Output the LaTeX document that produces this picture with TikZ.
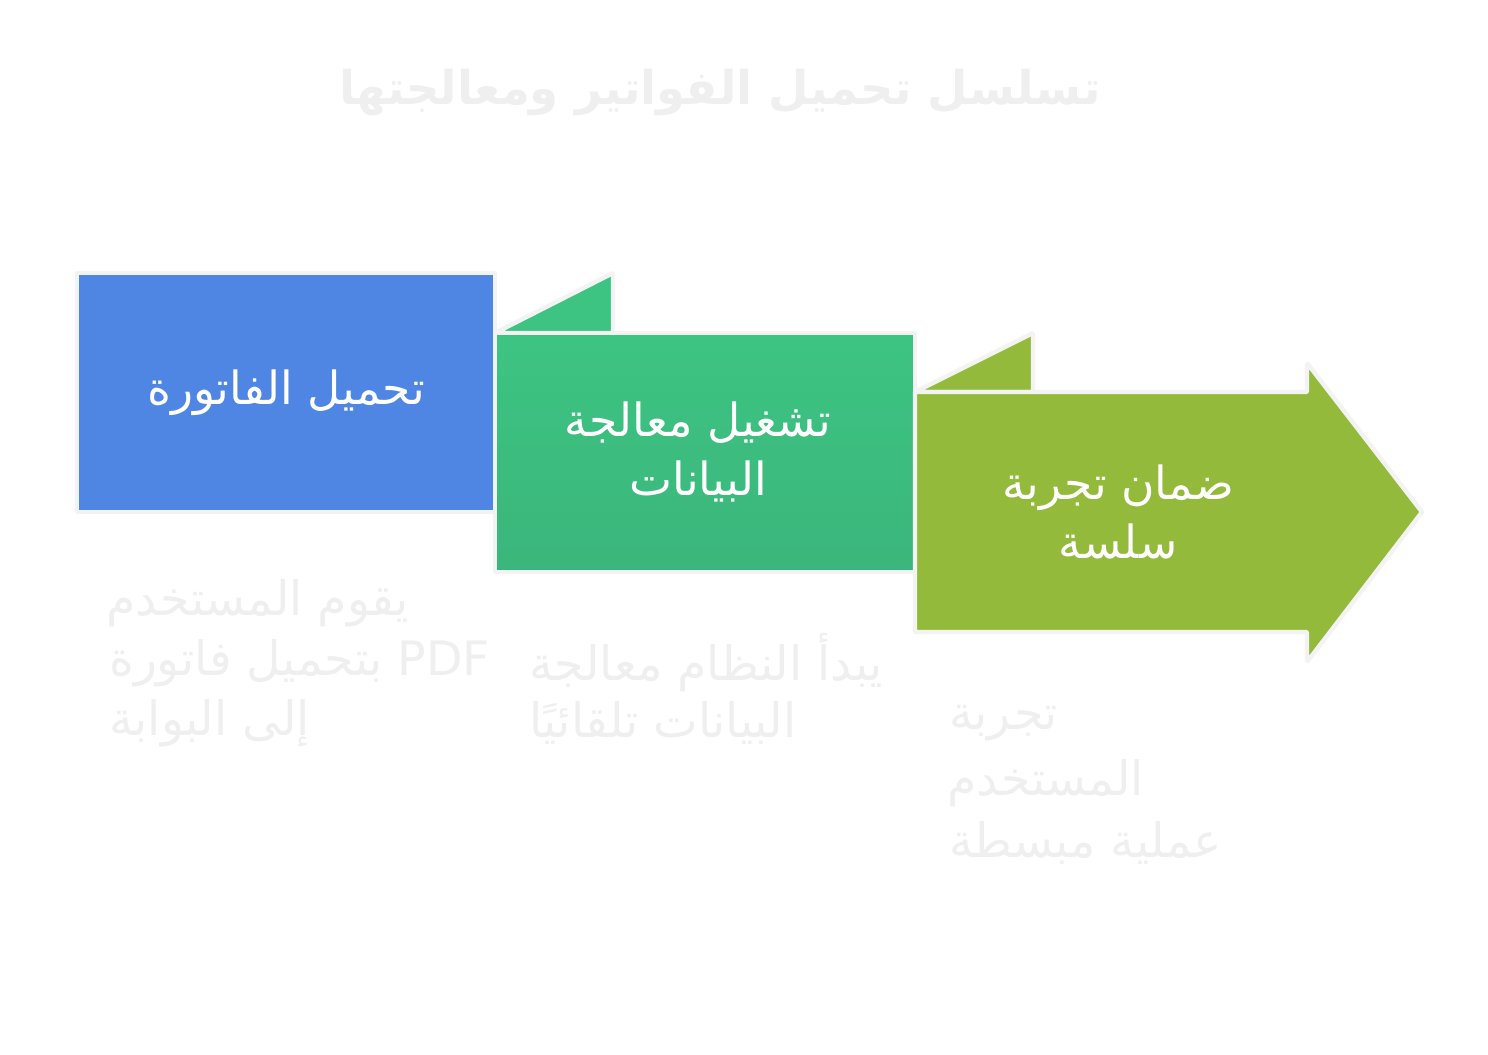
\documentclass[tikz,border=0pt]{standalone}
\usepackage{fontspec}
\newfontfamily\ar[Script=Arabic]{DejaVu Sans}
\TeXXeTstate=1
\newcommand{\AR}[1]{\beginR #1\endR}
\definecolor{cblue}{HTML}{4F86E4}
\definecolor{cgreen}{HTML}{3DC482}
\definecolor{cgreenb}{HTML}{3BB67C}
\definecolor{colive}{HTML}{93BA3B}
\definecolor{cedge}{HTML}{F3F3F3}
\definecolor{cfaint}{HTML}{EFEFEF}
\begin{document}
\begin{tikzpicture}[x=0.02cm,y=-0.02cm,
  shp/.style={draw=cedge,line width=2.5pt,line join=bevel},
  lab/.style={text=white,font=\ar\fontsize{26}{34}\selectfont,align=center},
  desc/.style={text=cfaint,font=\ar\fontsize{27}{30}\selectfont,anchor=west}]
\useasboundingbox (0,0) rectangle (1488,1055);
\node[text=cfaint,font=\ar\bfseries\fontsize{26.5}{30}\selectfont] (title) at (720,93) {\AR{تسلسل تحميل الفواتير ومعالجتها}};
\draw[shp,fill=cblue] (77,273) rectangle (495,512);
\draw[shp,fill=cgreen] (613,273) -- (613,333) -- (495,333) -- cycle;
\draw[shp,top color=cgreen,bottom color=cgreenb] (495,333) rectangle (915,572);
\draw[shp,fill=colive] (1033,333) -- (1033,392) -- (915,392) -- cycle;
\draw[shp,fill=colive] (915,392) -- (1307,392) -- (1307,363) -- (1422,512) -- (1307,662) -- (1307,632) -- (915,632) -- cycle;
\node[lab] (l1) at (286,393) {\AR{تحميل الفاتورة}};
\node[lab] (l2) at (698,452) {\AR{تشغيل معالجة}\\\AR{البيانات}};
\node[lab] (l3) at (1118,512) {\AR{ضمان تجربة}\\\AR{سلسة}};
\node[desc] (d1a) at (100,603) {\AR{يقوم المستخدم}};
\node[desc] (d1b) at (103,663) {\AR{\beginL PDF\endL{} بتحميل فاتورة}};
\node[desc] (d1c) at (103,723) {\AR{إلى البوابة}};
\node[desc] (d2a) at (523,663) {\AR{يبدأ النظام معالجة}};
\node[desc] (d2b) at (523,723) {\AR{البيانات تلقائيًا}};
\node[desc] (d3a) at (943,723) {\AR{تجربة}};
\node[desc] (d3b) at (941,783) {\AR{المستخدم}};
\node[desc] (d3c) at (943,843) {\AR{عملية مبسطة}};
\end{tikzpicture}
\end{document}
